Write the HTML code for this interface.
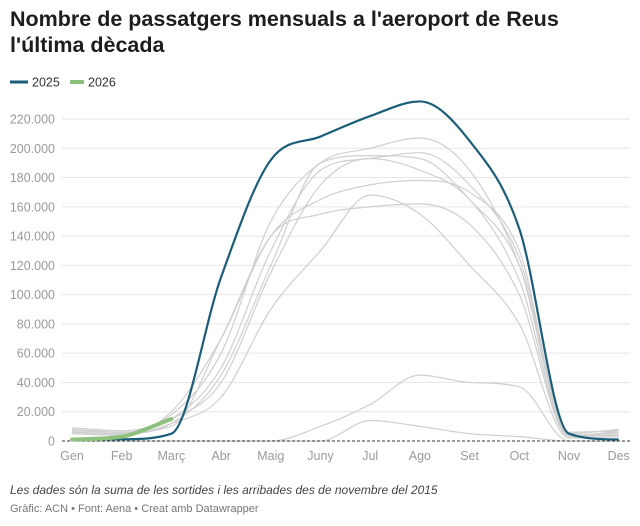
<!DOCTYPE html>
<html><head><meta charset="utf-8"><style>
body{margin:0;background:#fff;font-family:"Liberation Sans",sans-serif;width:640px;height:526px;overflow:hidden;position:relative}
h1{position:absolute;left:10px;top:6px;margin:0;font-size:21.5px;line-height:26px;font-weight:bold;color:#1d1d1d;width:570px}
.note{position:absolute;left:10px;top:483px;font-size:12px;font-style:italic;color:#444}
.src{position:absolute;left:10px;top:503px;font-size:11px;color:#777}
svg{position:absolute;left:0;top:0}
</style></head><body>
<h1>Nombre de passatgers mensuals a l'aeroport de Reus l'última dècada</h1>
<svg width="640" height="526" id="s" font-family="Liberation Sans, sans-serif">
<line x1="10" y1="82" x2="28" y2="82" stroke="#1b5e7a" stroke-width="3"/>
<text x="32" y="86.5" font-size="12.5" fill="#333">2025</text>
<line x1="70" y1="82" x2="84" y2="82" stroke="#8cc07c" stroke-width="4"/>
<text x="88" y="86.5" font-size="12.5" fill="#333">2026</text>
</svg>
<div class="note">Les dades són la suma de les sortides i les arribades des de novembre del 2015</div>
<div class="src">Gràfic: ACN • Font: Aena • Creat amb Datawrapper</div>
<script>
var s=document.getElementById('s'),NS='http://www.w3.org/2000/svg';
function el(t,a,txt){var e=document.createElementNS(NS,t);for(var k in a)e.setAttribute(k,a[k]);if(txt!=null)e.textContent=txt;s.appendChild(e);return e;}
function X(i){return 72+i*49.7}
function Y(v){return 441-v/220*322}
for(var g=0;g<=11;g++){var v=g*20,y=Y(v);
 if(g>0)el('line',{x1:62,x2:630,y1:y,y2:y,stroke:'#e6e6e6','stroke-width':1});
 el('text',{x:55,y:y+4.5,'font-size':12.5,fill:'#9a9a9a','text-anchor':'end'},g==0?'0':v+'.000');}
var m=['Gen','Feb','Març','Abr','Maig','Juny','Jul','Ago','Set','Oct','Nov','Des'];
m.forEach(function(t,i){el('text',{x:X(i),y:460,'font-size':12.5,fill:'#9a9a9a','text-anchor':'middle'},t)});
function path(d){var n=d.length,del=[],t=[];
 for(var i=0;i<n-1;i++)del.push(d[i+1]-d[i]);
 t[0]=del[0];t[n-1]=del[n-2];
 for(i=1;i<n-1;i++){if(del[i-1]*del[i]<=0)t[i]=0;else t[i]=(del[i-1]+del[i])/2;}
 for(i=0;i<n-1;i++){if(del[i]==0){t[i]=0;t[i+1]=0;continue;}
  var a=t[i]/del[i],b=t[i+1]/del[i],h=a*a+b*b;if(h>9){var k=3/Math.sqrt(h);t[i]=k*a*del[i];t[i+1]=k*b*del[i];}}
 var p='M'+X(0)+','+Y(d[0]),dx=49.7/3;
 for(i=0;i<n-1;i++)p+=' C'+(X(i)+dx)+','+Y(d[i]+t[i]/3)+' '+(X(i+1)-dx)+','+Y(d[i+1]-t[i+1]/3)+' '+X(i+1)+','+Y(d[i+1]);
 return p;}
var gray=[[9,7,18,60,150,190,200,207,185,120,5,8],[7,6,15,50,130,185,193,197,175,125,6,7],[6,5,12,45,120,190,195,193,165,120,4,6],[5,4,20,70,140,165,175,178,170,130,3,5],[6,5,15,40,115,175,193,185,165,110,3,4],[5,4,12,30,90,130,168,155,120,80,2,3],[8,6,10,70,140,155,160,162,148,100,3,7],[0,0,0,0,0,10,25,45,40,37,0,0],[0,0,0,0,0,0,14,10,5,3,0,0]];
gray.forEach(function(d){el('path',{d:path(d),fill:'none',stroke:'#cfcfcf','stroke-width':1.2})});
el('line',{x1:62,x2:630,y1:441,y2:441,stroke:'#333','stroke-width':1,'stroke-dasharray':'3,2'});
el('path',{d:path([1,1.2,5,112,192,208,222,232,205,145,5,1]),fill:'none',stroke:'#1b5e7a','stroke-width':2.2});
el('path',{d:path([1,3,15]),fill:'none',stroke:'#8cc07c','stroke-width':4,'stroke-linecap':'round'});
</script>
</body></html>
